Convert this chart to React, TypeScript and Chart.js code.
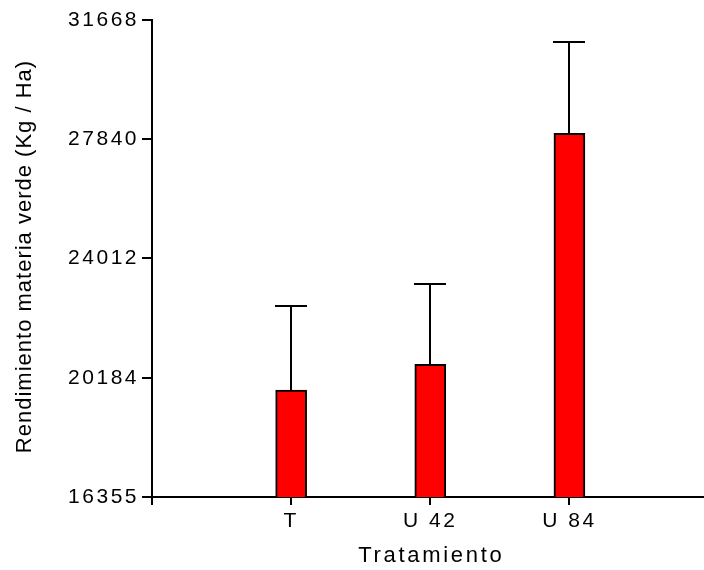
import React, { useEffect, useRef } from "react";
import { Chart, registerables } from "chart.js";

Chart.register(...registerables);

const categories = ["T", "U 42", "U 84"];
const xPositions = [1, 2, 3];
const means = [19790, 20615, 28030];
const errUpper = [22496, 23192, 30951];
const yTicks = [16355, 20184, 24012, 27840, 31668];
const xTitle = "Tratamiento";
const yTitle = "Rendimiento materia verde (Kg / Ha)";

const FONT = "'Liberation Sans', Arial, Helvetica, sans-serif";

const errorBarPlugin = {
  id: "errorBars",
  afterDatasetsDraw(chart: any) {
    const { ctx, scales } = chart;
    const x = scales.x;
    const y = scales.y;
    ctx.save();
    ctx.strokeStyle = "#000";
    ctx.lineWidth = 2;
    means.forEach((m, i) => {
      const px = Math.round(x.getPixelForValue(xPositions[i]));
      const py0 = y.getPixelForValue(m);
      const py1 = Math.round(y.getPixelForValue(errUpper[i]));
      ctx.beginPath();
      ctx.moveTo(px, py0);
      ctx.lineTo(px, py1);
      ctx.moveTo(px - 16, py1);
      ctx.lineTo(px + 16, py1);
      ctx.stroke();
    });
    ctx.restore();
  },
};

const textPlugin = {
  id: "textStyle",
  beforeDraw(chart: any) {
    (chart.ctx as any).letterSpacing = "2.5px";
  },
  afterDraw(chart: any) {
    const { ctx, chartArea } = chart;
    ctx.save();
    ctx.strokeStyle = "#000";
    ctx.lineWidth = 2;
    ctx.beginPath();
    ctx.moveTo(chartArea.left, chartArea.bottom);
    ctx.lineTo(chartArea.left, chartArea.bottom + 8);
    ctx.stroke();

    ctx.fillStyle = "#000";
    ctx.textBaseline = "middle";
    ctx.textAlign = "center";
    const xs = 2.7;
    (ctx as any).letterSpacing = xs + "px";
    ctx.font = `22px ${FONT}`;
    ctx.fillText(xTitle, 430 + xs / 2, 556);
    const ys = 1;
    (ctx as any).letterSpacing = ys + "px";
    ctx.translate(25, 257);
    ctx.rotate(-Math.PI / 2);
    ctx.fillText(yTitle, ys / 2, 0);
    ctx.restore();
    (ctx as any).letterSpacing = "0px";
  },
};

export default function App() {
  const ref = useRef<HTMLCanvasElement | null>(null);

  useEffect(() => {
    if (!ref.current) return;
    const chart = new Chart(ref.current, {
      type: "bar",
      data: {
        datasets: [
          {
            data: xPositions.map((x, i) => ({ x, y: means[i] })),
            backgroundColor: "#ff0000",
            borderColor: "#000",
            borderWidth: 2,
            barThickness: 31,
          },
        ],
      },
      options: {
        responsive: false,
        animation: false,
        layout: { padding: { top: 20, right: 1, left: 0, bottom: 0 } },
        plugins: {
          legend: { display: false },
          tooltip: { enabled: false },
        },
        scales: {
          x: {
            type: "linear",
            min: 0,
            max: 3.96,
            offset: false,
            afterBuildTicks: (scale: any) => {
              scale.ticks = xPositions.map((v) => ({ value: v }));
            },
            afterFit: (scale: any) => {
              scale.height = 73;
            },
            ticks: {
              callback: (v: any) => {
                const idx = xPositions.indexOf(Number(v));
                return idx >= 0 ? categories[idx] : "";
              },
              color: "#000",
              font: { family: FONT, size: 21 },
              padding: 4,
              maxRotation: 0,
              autoSkip: false,
            },
            grid: {
              offset: false,
              drawOnChartArea: false,
              drawTicks: true,
              tickLength: 8,
              color: "#000",
              lineWidth: 2,
            },
            border: { color: "#000", width: 2 },
          },
          y: {
            type: "linear",
            min: yTicks[0],
            max: yTicks[yTicks.length - 1],
            afterBuildTicks: (scale: any) => {
              scale.ticks = yTicks.map((v) => ({ value: v }));
            },
            afterFit: (scale: any) => {
              scale.width = 152;
            },
            ticks: {
              callback: (v: any) => String(v),
              color: "#000",
              font: { family: FONT, size: 21 },
              padding: 3,
              autoSkip: false,
            },
            grid: {
              drawOnChartArea: false,
              drawTicks: true,
              tickLength: 10,
              color: "#000",
              lineWidth: 2,
            },
            border: { color: "#000", width: 2 },
          },
        },
      },
      plugins: [errorBarPlugin, textPlugin],
    } as any);
    return () => chart.destroy();
  }, []);

  return (
    <div style={{ position: "fixed", left: 0, top: 0, width: 704, height: 570, background: "#fff" }}>
      <canvas ref={ref} width={704} height={570} style={{ display: "block" }} />
    </div>
  );
}
